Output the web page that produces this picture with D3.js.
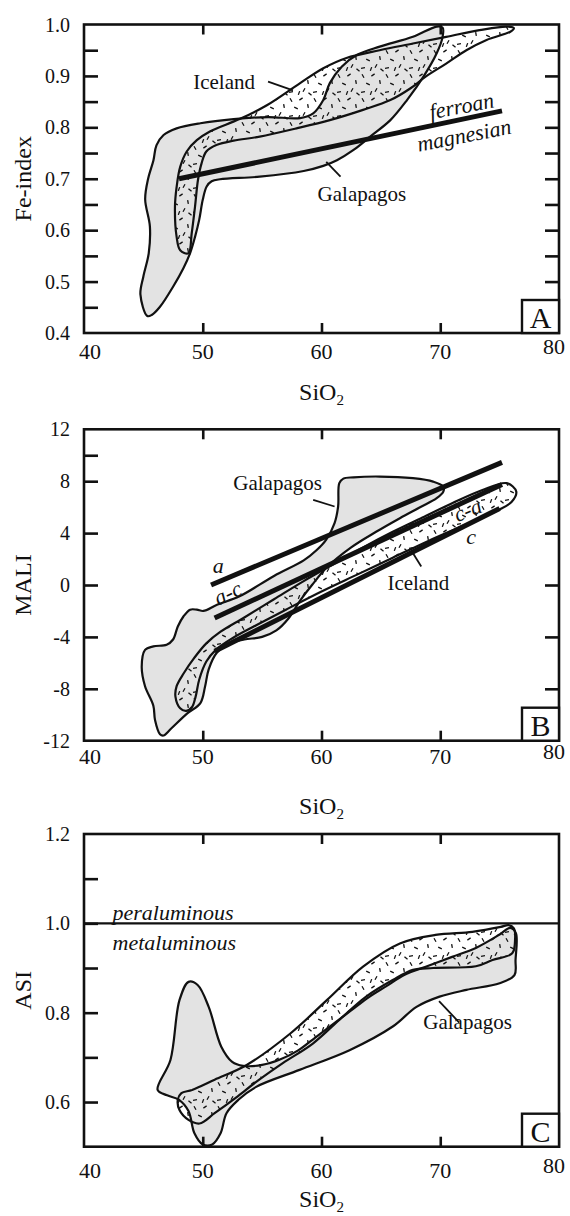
<!DOCTYPE html>
<html>
<head>
<meta charset="utf-8">
<script src="https://cdn.jsdelivr.net/npm/d3@7"></script>
<style>
  body { margin: 0; background: #fff; }
  svg text { font-family: "Liberation Serif", "Times New Roman", "DejaVu Serif", serif; fill: #111; }
</style>
</head>
<body>
<svg id="chart" width="570" height="1216" font-family="Liberation Serif, Times New Roman, DejaVu Serif, serif"></svg>
<script>
// ---- data ----
const xTickLabels = [40, 50, 60, 70, 80];
const xMinorTicks = [50, 60, 70];

// panel A: Fe-index
const feLabels = [0.4, 0.5, 0.6, 0.7, 0.8, 0.9, 1.0];
const feTicks = [0.45, 0.5, 0.55, 0.6, 0.65, 0.7, 0.75, 0.8, 0.85, 0.9, 0.95];
const galapagosA = [
  [45.33, 0.433], [44.75, 0.475], [45.0, 0.51], [45.45, 0.555], [45.55, 0.607],
  [45.15, 0.66], [45.4, 0.70], [45.85, 0.736], [46.1, 0.765], [46.7, 0.785],
  [47.8, 0.798], [49.8, 0.808], [52.6, 0.816], [55.5, 0.82], [58.2, 0.818],
  [59.3, 0.827], [60.15, 0.853], [60.7, 0.886], [61.7, 0.918], [63.0, 0.941],
  [64.9, 0.957], [67.7, 0.976], [69.7, 0.996], [70.2, 0.994], [70.2, 0.976],
  [69.7, 0.944], [68.6, 0.899], [67.2, 0.853], [65.8, 0.814], [64.1, 0.782],
  [62.7, 0.756], [61.3, 0.736], [60.15, 0.725], [58.5, 0.715], [54.8, 0.704],
  [51.45, 0.699], [50.75, 0.695], [50.33, 0.685], [50.0, 0.659], [49.7, 0.62],
  [49.35, 0.587], [48.93, 0.555], [48.37, 0.526], [47.5, 0.49], [46.4, 0.451],
  [45.7, 0.435]
];
const icelandA = [
  [48.79, 0.555], [48.1, 0.561], [47.8, 0.587], [47.66, 0.645], [47.8, 0.684],
  [48.1, 0.723], [48.65, 0.753], [49.5, 0.775], [50.6, 0.792], [53.1, 0.816],
  [55.4, 0.843], [58.2, 0.886], [60.15, 0.915], [62.1, 0.935], [64.9, 0.95],
  [67.7, 0.963], [70.5, 0.976], [73.3, 0.989], [75.6, 0.996], [76.2, 0.993],
  [75.9, 0.986], [73.9, 0.97], [72.2, 0.95], [70.5, 0.924], [68.8, 0.899],
  [67.5, 0.876], [65.8, 0.853], [63.5, 0.834], [60.7, 0.814], [57.9, 0.798],
  [54.8, 0.782], [52.6, 0.774], [51.2, 0.766], [50.3, 0.753], [49.9, 0.73],
  [49.6, 0.698], [49.35, 0.646], [49.07, 0.594]
];
const ferroanLine = [[48.0, 0.70], [75.2, 0.832]];

// panel B: MALI
const maliLabels = [-12, -8, -4, 0, 4, 8, 12];
const maliTicksLeft = [-8, -4, 0, 4, 8, 10];
const maliTicksRight = [-8, -4, 0, 4, 8];
const galapagosB = [
  [46.4, -11.5], [45.98, -10.4], [45.84, -9.3], [45.14, -7.8], [44.86, -6.3],
  [45.14, -5.0], [45.84, -4.73], [46.96, -4.6], [47.5, -4.2], [47.9, -3.2],
  [48.37, -2.43], [48.93, -1.9], [49.5, -1.9], [50.05, -2.0], [51.2, -1.52],
  [53.1, -0.87], [56.0, 0.7], [58.5, 1.9], [59.6, 2.7], [60.4, 3.5],
  [61.1, 4.77], [61.4, 6.05], [61.5, 7.85], [61.84, 8.2], [62.7, 8.3],
  [64.9, 8.36], [67.7, 8.23], [69.4, 7.97], [70.26, 7.59], [70.26, 7.2],
  [69.7, 6.69], [68.3, 5.99], [66.6, 5.15], [64.6, 4.1], [62.5, 2.9],
  [60.5, 1.4], [59.2, 0.0], [58.2, -1.2], [57.2, -2.6], [56.2, -3.5],
  [55.0, -4.0], [53.5, -4.2], [52.3, -4.5], [51.2, -5.2], [50.5, -6.5],
  [50.2, -7.8], [49.8, -9.1], [48.7, -9.9], [47.3, -11.1], [46.7, -11.6]
];
const icelandB = [
  [48.1, -9.5], [47.7, -8.6], [47.8, -7.8], [48.4, -6.8], [49.3, -5.6],
  [50.3, -4.5], [51.5, -3.6], [53.5, -2.5], [56.0, -1.1], [58.5, 0.3],
  [61.0, 1.6], [63.5, 2.9], [66.0, 4.1], [68.5, 5.2], [71.0, 6.3],
  [73.5, 7.3], [75.6, 7.85], [76.4, 7.2], [76.0, 6.4], [74.5, 5.6],
  [72.0, 4.6], [69.0, 3.4], [66.0, 2.1], [63.0, 0.8], [60.0, -0.5],
  [57.0, -1.9], [54.5, -3.1], [52.5, -4.1], [51.1, -5.0], [50.3, -5.9],
  [49.7, -7.3], [49.4, -8.6], [49.1, -9.4], [48.6, -9.7]
];
const lineA = [[50.7, 0.0], [75.2, 9.45]];
const lineAC = [[51.0, -2.55], [75.2, 7.75]];
const lineC = [[51.0, -5.1], [75.0, 5.9]];

// panel C: ASI
const asiLabels = [0.6, 0.8, 1.0, 1.2];
const asiTicks = [0.6, 0.7, 0.8, 0.9, 1.0, 1.1];
const galapagosC = [
  [46.2, 0.627], [47.28, 0.694], [48.04, 0.828], [48.8, 0.869], [49.57, 0.862],
  [50.5, 0.813], [51.56, 0.724], [52.48, 0.69], [53.4, 0.681], [55.0, 0.683],
  [56.5, 0.695], [58.0, 0.715], [59.5, 0.745], [61.0, 0.775], [62.5, 0.805],
  [64.0, 0.835], [65.5, 0.86], [67.0, 0.885], [69.0, 0.905], [71.0, 0.925],
  [73.0, 0.945], [75.0, 0.975], [75.9, 0.99], [76.37, 0.978], [76.34, 0.918],
  [76.25, 0.884], [75.0, 0.866], [72.2, 0.851], [69.94, 0.836], [68.0, 0.813],
  [66.0, 0.769], [62.36, 0.716], [58.15, 0.672], [54.5, 0.634], [53.0, 0.605],
  [52.0, 0.575], [51.5, 0.53], [50.8, 0.505], [50.0, 0.505], [49.3, 0.53],
  [48.8, 0.58], [48.0, 0.605], [47.0, 0.615]
];
const icelandC = [
  [48.2, 0.62], [49.1, 0.627], [51.0, 0.65], [53.7, 0.683], [57.4, 0.754],
  [60.45, 0.828], [63.5, 0.903], [66.6, 0.955], [69.6, 0.974], [72.7, 0.981],
  [75.1, 0.992], [75.75, 0.996], [76.2, 0.989], [76.3, 0.963], [76.06, 0.933],
  [74.4, 0.918], [73.0, 0.904], [69.4, 0.9], [67.7, 0.896], [66.0, 0.873],
  [63.76, 0.836], [61.5, 0.784], [59.27, 0.731], [56.74, 0.687], [54.5, 0.645],
  [52.8, 0.61], [51.0, 0.575], [49.73, 0.552], [48.8, 0.56], [48.04, 0.582],
  [47.9, 0.605]
];
const asiBoundary = [[40, 1.0], [80, 1.0]];

// ---- drawing ----
const svg = d3.select("#chart");
const left = 84, right = 559;
const serif = "Liberation Serif, Times New Roman, DejaVu Serif, serif";

// dash texture for Iceland fields
const dashes = [[3, 4, 60], [13, 3, -35], [20, 10, 80], [8, 12, 25], [16, 18, -60], [3, 20, -10], [22, 22, 40], [11, 21, 110]];
const pat = svg.append("defs").append("pattern")
  .attr("id", "dots").attr("width", 24).attr("height", 24)
  .attr("patternUnits", "userSpaceOnUse");
dashes.forEach(([cx, cy, a]) => {
  const r = a * Math.PI / 180;
  pat.append("line")
    .attr("x1", cx - 2 * Math.cos(r)).attr("y1", cy - 2 * Math.sin(r))
    .attr("x2", cx + 2 * Math.cos(r)).attr("y2", cy + 2 * Math.sin(r))
    .attr("stroke", "#111").attr("stroke-width", 1.3);
});

function drawPanel(p) {
  const x = d3.scaleLinear().domain([40, 80]).range([left, right]);
  const y = d3.scaleLinear().domain(p.yDomain).range([p.bottom, p.top]);
  const g = svg.append("g").attr("font-family", serif);
  const shape = d3.line().x(d => x(d[0])).y(d => y(d[1])).curve(d3.curveCatmullRomClosed.alpha(0.5));
  const straight = d3.line().x(d => x(d[0])).y(d => y(d[1]));

  g.append("path").attr("d", shape(p.galapagos)).attr("fill", "#e3e3e3");
  g.append("path").attr("d", shape(p.iceland)).attr("fill", "url(#dots)");
  [p.galapagos, p.iceland].forEach(s => {
    g.append("path").attr("d", shape(s)).attr("fill", "none")
      .attr("stroke", "#111").attr("stroke-width", 2.2).attr("stroke-linejoin", "round");
  });
  p.lines.forEach(l => {
    g.append("path").attr("d", straight(l.pts)).attr("fill", "none")
      .attr("stroke", "#111").attr("stroke-width", l.w);
  });

  // frame and ticks
  g.append("rect").attr("x", left).attr("y", p.top)
    .attr("width", right - left).attr("height", p.bottom - p.top)
    .attr("fill", "none").attr("stroke", "#111").attr("stroke-width", 2.6);
  const tk = (axis, tr) => {
    const a = g.append("g").attr("transform", tr).call(axis);
    a.select(".domain").remove();
    a.selectAll("line").attr("stroke", "#111").attr("stroke-width", 2.6);
    a.selectAll("text").remove();
  };
  tk(d3.axisLeft(y).tickValues(p.leftTicks).tickSize(-14), `translate(${left},0)`);
  if (p.rightTicks.length) tk(d3.axisRight(y).tickValues(p.rightTicks).tickSize(-14), `translate(${right},0)`);
  tk(d3.axisTop(x).tickValues(xMinorTicks).tickSize(-10), `translate(0,${p.top})`);
  tk(d3.axisBottom(x).tickValues(xMinorTicks).tickSize(-10), `translate(0,${p.bottom})`);

  // tick labels
  g.selectAll(".yl").data(p.yLabels).join("text")
    .attr("x", 70).attr("y", d => y(d)).attr("dy", "0.35em")
    .attr("text-anchor", "end").attr("font-size", 20)
    .text(p.yFormat);
  g.selectAll(".xl").data(xTickLabels).join("text")
    .attr("x", d => x(d) + (d === 40 ? 6 : d === 80 ? -5 : 0))
    .attr("y", d => p.xLabelBase - (d === 80 ? 5 : 0))
    .attr("text-anchor", "middle").attr("font-size", 22)
    .text(d => d);

  // axis titles
  const xt = g.append("text").attr("x", (left + right) / 2).attr("y", p.titleBase)
    .attr("text-anchor", "middle").attr("font-size", 24);
  xt.append("tspan").text("SiO");
  xt.append("tspan").attr("font-size", 15).attr("dy", 5).text("2");
  g.append("text").attr("transform", `translate(31,${(p.top + p.bottom) / 2}) rotate(-90)`)
    .attr("text-anchor", "middle").attr("font-size", 24).text(p.yTitle);

  // panel letter
  g.append("rect").attr("x", 522).attr("y", p.bottom - 33).attr("width", right - 522).attr("height", 33)
    .attr("fill", "#fff").attr("stroke", "#111").attr("stroke-width", 2.4);
  g.append("text").attr("x", (522 + right) / 2).attr("y", p.bottom - 5)
    .attr("text-anchor", "middle").attr("font-size", 30).text(p.key);

  // annotations
  p.notes.forEach(n => {
    g.append("text")
      .attr("transform", `translate(${x(n.at[0])},${y(n.at[1])}) rotate(${n.rot || 0})`)
      .attr("text-anchor", n.anchor || "middle").attr("dy", "0.35em")
      .attr("font-size", n.size || 21)
      .attr("font-style", n.italic ? "italic" : null)
      .text(n.text);
  });
  p.leaders.forEach(l => {
    g.append("line").attr("x1", x(l[0][0])).attr("y1", y(l[0][1]))
      .attr("x2", x(l[1][0])).attr("y2", y(l[1][1]))
      .attr("stroke", "#111").attr("stroke-width", 1.8);
  });
}

drawPanel({
  key: "A", yDomain: [0.4, 1.0], top: 24.5, bottom: 333,
  galapagos: galapagosA, iceland: icelandA,
  lines: [{ pts: ferroanLine, w: 5 }],
  leftTicks: feTicks, rightTicks: feTicks,
  yLabels: feLabels, yFormat: d => d.toFixed(1), yTitle: "Fe-index",
  xLabelBase: 359, titleBase: 400,
  notes: [
    { text: "Iceland", at: [51.8, 0.888] },
    { text: "Galapagos", at: [63.4, 0.672] },
    { text: "ferroan", at: [71.8, 0.842], rot: -11, italic: true, size: 22 },
    { text: "magnesian", at: [72.0, 0.785], rot: -11, italic: true, size: 22 }
  ],
  leaders: [[[55.5, 0.889], [57.6, 0.872]], [[60.4, 0.733], [61.6, 0.704]]]
});

drawPanel({
  key: "B", yDomain: [-12, 12], top: 429.3, bottom: 740.7,
  galapagos: galapagosB, iceland: icelandB,
  lines: [{ pts: lineA, w: 5 }, { pts: lineAC, w: 5 }, { pts: lineC, w: 5 }],
  leftTicks: maliTicksLeft, rightTicks: maliTicksRight,
  yLabels: maliLabels, yFormat: d => d, yTitle: "MALI",
  xLabelBase: 764, titleBase: 814,
  notes: [
    { text: "Galapagos", at: [56.3, 7.87] },
    { text: "Iceland", at: [68.15, 0.15] },
    { text: "a", at: [51.3, 1.5], italic: true, size: 22 },
    { text: "a-c", at: [52.1, -0.6], rot: -25, italic: true, size: 22 },
    { text: "c-a", at: [72.3, 5.8], rot: -22, italic: true, size: 22 },
    { text: "c", at: [72.6, 3.75], italic: true, size: 22 }
  ],
  leaders: [[[59.3, 6.56], [61.1, 6.05]], [[67.6, 2.6], [68.4, 1.43]]]
});

drawPanel({
  key: "C", yDomain: [0.5, 1.2], top: 834, bottom: 1146.7,
  galapagos: galapagosC, iceland: icelandC,
  lines: [{ pts: asiBoundary, w: 2.2 }],
  leftTicks: asiTicks, rightTicks: [],
  yLabels: asiLabels, yFormat: d => d.toFixed(1), yTitle: "ASI",
  xLabelBase: 1178, titleBase: 1207,
  notes: [
    { text: "peraluminous", at: [42.4, 1.025], anchor: "start", italic: true, size: 22 },
    { text: "metaluminous", at: [42.4, 0.958], anchor: "start", italic: true, size: 22 },
    { text: "Galapagos", at: [72.3, 0.78] }
  ],
  leaders: [[[69.9, 0.826], [71.6, 0.778]]]
});
</script>
</body>
</html>
